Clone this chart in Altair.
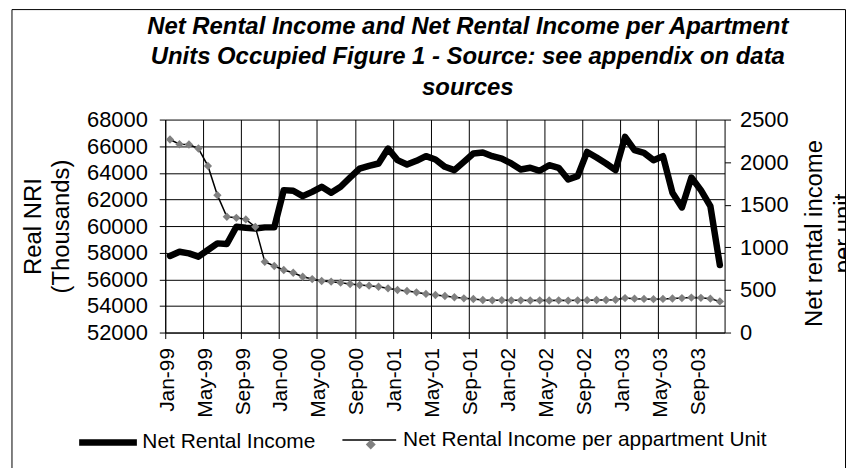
import json
import altair as alt
import pandas as pd

# ---------------- data ----------------
title_lines = [
    "Net Rental Income and Net Rental Income per Apartment",
    "Units Occupied Figure 1 - Source: see appendix on data",
    "sources",
]
tick_labels = ["Jan-99", "May-99", "Sep-99", "Jan-00", "May-00", "Sep-00",
               "Jan-01", "May-01", "Sep-01", "Jan-02", "May-02", "Sep-02",
               "Jan-03", "May-03", "Sep-03"]
left_ticks = [52000, 54000, 56000, 58000, 60000, 62000, 64000, 66000, 68000]
right_ticks = [0, 500, 1000, 1500, 2000, 2500]

series1 = "Net Rental Income"
series2 = "Net Rental Income per appartment Unit"

# monthly values Jan-99 .. Nov-03
nri = [57750, 58070, 57950, 57700, 58200, 58700, 58650, 59950, 59870, 59820, 59900, 59900,
       62700, 62650, 62250, 62570, 62950, 62500, 62950, 63650, 64320, 64520, 64700, 65820,
       64950, 64620, 64900, 65250, 65000, 64450, 64200, 64820, 65450, 65520, 65250, 65070,
       64700, 64250, 64380, 64150, 64570, 64380, 63500, 63750, 65570, 65150, 64700, 64200,
       66700, 65700, 65500, 64950, 65250, 62500, 61400, 63650, 62700, 61500, 57070]
per_unit = [2266, 2210, 2207, 2160, 1956, 1613, 1359, 1347, 1328, 1241, 831, 781,
            734, 702, 655, 628, 605, 597, 585, 570, 558, 550, 538, 519,
            499, 488, 472, 453, 441, 429, 414, 402, 394, 382, 378, 380,
            378, 378, 376, 378, 376, 378, 375, 378, 380, 382, 382, 385,
            405, 398, 395, 392, 395, 400, 405, 410, 408, 398, 365]

n = len(nri)
df1 = pd.DataFrame({"idx": list(range(n)), "value": nri, "series": series1})
df2 = pd.DataFrame({"idx": list(range(n)), "value": per_unit, "series": series2})
frame_df = pd.DataFrame({"k": [0]})

FONT = "Liberation Sans"

tick_vals = [4 * k - 0.5 for k in range(len(tick_labels))]
label_expr = json.dumps(tick_labels) + "[round((datum.value + 0.5) / 4)]"

x_axis = alt.Axis(values=tick_vals, labelExpr=label_expr, labelAngle=-90,
                  labelAlign="right", labelBaseline="middle", labelOffset=2,
                  labelPadding=9, labelOverlap=False, labelFlush=False,
                  grid=True, gridColor="black", gridWidth=1,
                  tickColor="black", tickSize=6, domainColor="black",
                  labelFont=FONT, labelFontSize=21, labelColor="black", title=None)
x_enc = alt.X("idx:Q", scale=alt.Scale(domain=[-0.5, n - 0.5], nice=False, zero=False),
              axis=x_axis)

y_left = alt.Y("value:Q", scale=alt.Scale(domain=[52000, 68000], nice=False, zero=False),
               axis=alt.Axis(values=left_ticks, format="d", grid=True, gridColor="black",
                             gridWidth=1, tickColor="black", tickSize=6, domainColor="black",
                             labelFont=FONT, labelFontSize=22, labelColor="black", labelPadding=12,
                             title=["Real NRI", "(Thousands)"], titleFont=FONT, titleFontSize=24,
                             titleFontWeight="normal", titleColor="black", titleAngle=-90,
                             titleAlign="center", titleBaseline="alphabetic",
                             titleLineHeight=28, titleX=-125, titleY=107))

right_axis = alt.Axis(orient="right", values=right_ticks, format="d", grid=False,
                      tickColor="black", tickSize=6, domainColor="black",
                      labelFont=FONT, labelFontSize=22, labelColor="black", labelPadding=9,
                      title=["Net rental income", "per unit"], titleFont=FONT, titleFontSize=24,
                      titleFontWeight="normal", titleColor="black", titleAngle=-90,
                      titleAlign="center", titleBaseline="alphabetic",
                      titleLineHeight=30, titleX=97, titleY=114)
y_right = alt.Y("value:Q", scale=alt.Scale(domain=[0, 2500], nice=False), axis=right_axis)

legend_common = dict(orient="none", title=None, labelFont=FONT, labelFontSize=21,
                     labelColor="black", labelLimit=600, padding=0)

thick = alt.Chart(df1).mark_line(strokeWidth=6.5, strokeJoin="round", strokeCap="round").encode(
    x=x_enc, y=y_left,
    color=alt.Color("series:N", scale=alt.Scale(domain=[series1], range=["black"]),
                    legend=alt.Legend(legendX=-90, legendY=292, symbolType="stroke",
                                      symbolSize=3364, symbolStrokeWidth=6.5, labelOffset=2,
                                      **legend_common)),
)

thin = alt.Chart(df2).mark_line(strokeWidth=1.5).encode(
    x=x_enc, y=y_right,
    color=alt.Color("series:N", scale=alt.Scale(domain=[series2], range=["black"]),
                    legend=alt.Legend(legendX=177, legendY=294, symbolType="M-1,0L1,0",
                                      symbolSize=2916, symbolStrokeWidth=1.5, labelOffset=6,
                                      zindex=1, **legend_common)),
)

pts = alt.Chart(df2).mark_point(shape="diamond", filled=True, size=70, opacity=1).encode(
    x=x_enc, y=y_right,
    color=alt.Color("series:N", scale=alt.Scale(domain=[series2], range=["#808080"]),
                    legend=alt.Legend(legendX=196, legendY=316, symbolType="diamond",
                                      symbolSize=100, labelExpr="''", zindex=2,
                                      **legend_common)),
)

frame = alt.Chart(frame_df).mark_rect(fillOpacity=0, stroke="black", strokeWidth=1).encode(
    x=alt.value(-154), x2=alt.value(683.5), y=alt.value(-110.5), y2=alt.value(360)
)

right_layer = alt.layer(thin, pts).resolve_scale(color="independent")

chart = alt.layer(frame, thick, right_layer).resolve_scale(
    y="independent", color="independent"
).properties(
    width=562, height=214,
    title=alt.TitleParams(text=title_lines, font=FONT, fontSize=24, fontWeight="bold",
                          fontStyle="italic", color="black", lineHeight=30.5,
                          anchor="middle", dx=23, dy=95),
    padding={"left": 158, "top": 111, "right": 122, "bottom": 135},
    autosize=alt.AutoSizeParams(type="none"),
    background="white",
).configure_view(stroke="transparent")

chart.save("out.html", embed_options={"renderer": "svg", "actions": False})
